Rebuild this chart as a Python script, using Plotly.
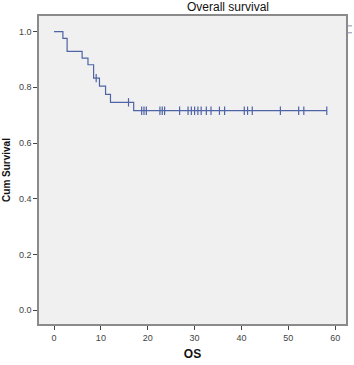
import plotly.graph_objects as go
import numpy as np

# Kaplan-Meier data
event_times = [0.0, 1.9, 2.8, 6.0, 7.25, 8.45, 9.7, 11.0, 12.05, 17.0]
survival = [1.0, 0.976, 0.929, 0.905, 0.881, 0.833, 0.804, 0.775, 0.746, 0.716]
censor_times = [9.0, 15.9, 18.7, 19.2, 19.7, 22.6, 23.1, 23.6, 26.8, 28.6, 29.3,
                30.0, 30.7, 31.4, 32.5, 33.5, 35.3, 36.4, 40.6, 41.3, 42.3,
                48.3, 52.2, 53.3, 58.2]
x_ticks = [0, 10, 20, 30, 40, 50, 60]
y_ticks = [0.0, 0.2, 0.4, 0.6, 0.8, 1.0]

def surv_at(t):
    s = survival[0]
    for et, sv in zip(event_times, survival):
        if et <= t:
            s = sv
    return s

line_x = event_times + [max(censor_times)]
line_y = survival + [survival[-1]]
censor_y = [surv_at(t) for t in censor_times]

col = "#4e64a6"
fig = go.Figure()
fig.add_trace(go.Scatter(x=line_x, y=line_y, mode="lines", line_shape="hv",
                         line=dict(color=col, width=1.2), showlegend=False))
fig.add_trace(go.Scatter(x=censor_times, y=censor_y, mode="markers",
                         marker=dict(symbol="line-ns", size=6, color=col,
                                     line=dict(color=col, width=1.2)),
                         showlegend=False))

fig.update_layout(
    width=354, height=365,
    margin=dict(l=38, r=6, t=16, b=37),
    paper_bgcolor="white", plot_bgcolor="#f0f0f0",
    font=dict(family="Liberation Sans, Arial", color="#555"),
    xaxis=dict(range=[-3.2, 62.3], tickvals=x_ticks, ticktext=[str(v) for v in x_ticks],
               showgrid=False, zeroline=False, showline=True, mirror=True,
               linecolor="#8a8a8a", linewidth=1.5, ticks="outside", ticklen=4,
               tickcolor="#444", tickfont=dict(size=9, color="#444"),
               title=dict(text="<b>OS</b>", font=dict(size=12, color="#111"), standoff=8)),
    yaxis=dict(range=[-0.0496, 1.056], tickvals=y_ticks, ticktext=[f"{v:.1f}" for v in y_ticks],
               showgrid=False, zeroline=False, showline=True, mirror=True,
               linecolor="#8a8a8a", linewidth=1.5, ticks="outside", ticklen=4,
               tickcolor="#444", tickfont=dict(size=9, color="#444"),
               title=dict(text="<b>Cum Survival</b>", font=dict(size=10, color="#111"), standoff=6)),
    annotations=[dict(text="Overall survival", xref="paper", yref="paper",
                      x=(229 - 38) / 310, y=1.0, xanchor="center", yanchor="bottom",
                      yshift=0, showarrow=False, font=dict(size=12, color="#111"))],
    shapes=[dict(type="line", xref="paper", yref="paper",
                 x0=(350 - 38) / 310, x1=(354 - 38) / 310,
                 y0=(328 - yy) / 312, y1=(328 - yy) / 312,
                 line=dict(color="#8a8fa8", width=1)) for yy in (26, 33)],
)
fig.write_html("out.html")
